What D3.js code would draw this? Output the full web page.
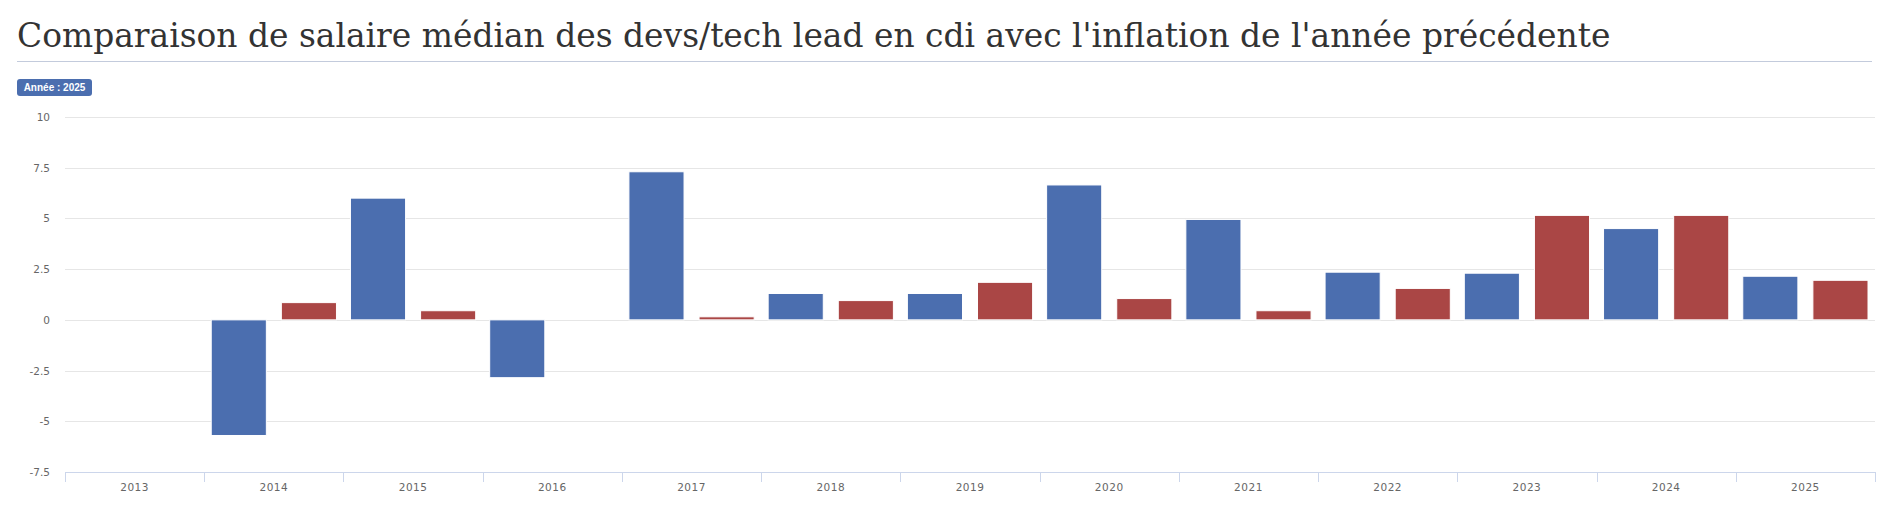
<!DOCTYPE html>
<html>
<head>
<meta charset="utf-8">
<script src="https://cdn.jsdelivr.net/npm/d3@7"></script>
<style>
  body { margin: 0; background: #fff; }
  svg { display: block; }
</style>
</head>
<body>
<div id="chart"></div>
<script>
// values
const years = ["2013", "2014", "2015", "2016", "2017", "2018", "2019", "2020", "2021", "2022", "2023", "2024", "2025"];
const salaryGrowth = [null, -5.7, 6.0, -2.85, 7.3, 1.3, 1.3, 6.65, 4.95, 2.35, 2.3, 4.5, 2.15];
const inflationPrev = [null, 0.85, 0.45, 0, 0.15, 0.95, 1.85, 1.05, 0.45, 1.55, 5.15, 5.15, 1.95];
const yTicks = [-7.5, -5, -2.5, 0, 2.5, 5, 7.5, 10];
const seriesKeys = ["salaire", "inflation"];
const seriesColors = ["#4b6eaf", "#aa4645"];

const titleText = "Comparaison de salaire médian des devs/tech lead en cdi avec l'inflation de l'année précédente";
const badgeText = "Année : 2025";

var W = 1884, H = 511;
var margin = { top: 117, right: 9, bottom: 39, left: 65 },
  width = W - margin.left - margin.right,
  height = H - margin.top - margin.bottom;

var root = d3.select("#chart").append("svg")
  .attr("width", W)
  .attr("height", H);

// title + underline
var title = root.append("text")
  .attr("x", 17)
  .attr("y", 47)
  .style("font-family", "'DejaVu Serif', serif")
  .style("font-size", "36px")
  .style("fill", "#333")
  .text(titleText);
// fit the title width to the reference
var tl = title.node().getComputedTextLength();
title.style("font-size", (36 * 1594 / tl) + "px");

root.append("line")
  .attr("x1", 17).attr("x2", 1872)
  .attr("y1", 61.5).attr("y2", 61.5)
  .style("stroke", "#c3cbdc")
  .style("stroke-width", 1);

// badge
var badge = root.append("g").attr("transform", "translate(17,79)");
badge.append("rect")
  .attr("width", 75).attr("height", 17).attr("rx", 3)
  .style("fill", "#4b6eaf");
badge.append("text")
  .attr("x", 37.5).attr("y", 12)
  .attr("text-anchor", "middle")
  .style("font-family", "'Liberation Sans', Arial, sans-serif")
  .style("font-size", "10px")
  .style("font-weight", "bold")
  .style("fill", "#fff")
  .text(badgeText);

var svg = root.append("g")
  .attr("transform", "translate(" + margin.left + "," + margin.top + ")");

var x = d3.scaleBand().domain(years).range([0, width]).padding(0);
var x1 = d3.scaleBand().domain(seriesKeys)
  .range([7, x.bandwidth() - 7])
  .paddingInner(0.214);
var y = d3.scaleLinear().domain([-7.5, 10]).range([height, 0]);

// grid
svg.append("g")
  .selectAll("line")
  .data(yTicks)
  .enter()
  .append("line")
  .attr("x1", 0).attr("x2", width)
  .attr("y1", (d) => Math.round(y(d)) + 0.5)
  .attr("y2", (d) => Math.round(y(d)) + 0.5)
  .style("stroke", "#e6e6e6");

// y labels
svg.append("g")
  .selectAll("text")
  .data(yTicks)
  .enter()
  .append("text")
  .attr("x", -15)
  .attr("y", (d) => y(d) + 4)
  .attr("text-anchor", "end")
  .style("font-family", "'DejaVu Sans', sans-serif")
  .style("font-size", "10.5px")
  .style("fill", "#666")
  .text((d) => String(d));

// bars
var rows = years.map((yr, i) => ({
  year: yr,
  vals: [
    { key: "salaire", v: salaryGrowth[i], c: seriesColors[0] },
    { key: "inflation", v: inflationPrev[i], c: seriesColors[1] },
  ],
}));

svg.append("g")
  .selectAll("g")
  .data(rows)
  .enter()
  .append("g")
  .attr("transform", (d) => "translate(" + x(d.year) + ",0)")
  .selectAll("rect")
  .data((d) => d.vals.filter((p) => p.v !== null && p.v !== 0))
  .enter()
  .append("rect")
  .attr("x", (d) => x1(d.key))
  .attr("width", x1.bandwidth())
  .attr("y", (d) => y(Math.max(0, d.v)))
  .attr("height", (d) => Math.abs(y(d.v) - y(0)))
  .style("fill", (d) => d.c)
  .style("stroke", "#fff")
  .style("stroke-width", 1);

// x axis
var xAxis = svg.append("g").attr("transform", "translate(0," + height + ")");
xAxis.append("line")
  .attr("x1", 0).attr("x2", width)
  .attr("y1", 0.5).attr("y2", 0.5)
  .style("stroke", "#ccd6eb");
var bounds = years.map((d) => x(d)).concat([width]);
xAxis.selectAll(".tk")
  .data(bounds)
  .enter()
  .append("line")
  .attr("class", "tk")
  .attr("x1", (d) => Math.round(d) + 0.5).attr("x2", (d) => Math.round(d) + 0.5)
  .attr("y1", 0).attr("y2", 10)
  .style("stroke", "#ccd6eb");
xAxis.selectAll(".lbl")
  .data(years)
  .enter()
  .append("text")
  .attr("class", "lbl")
  .attr("x", (d) => x(d) + x.bandwidth() / 2)
  .attr("y", 19)
  .attr("text-anchor", "middle")
  .style("font-family", "'DejaVu Sans', sans-serif")
  .style("font-size", "10.5px")
  .style("letter-spacing", "0.5px")
  .style("fill", "#666")
  .text((d) => d);
</script>
</body>
</html>
